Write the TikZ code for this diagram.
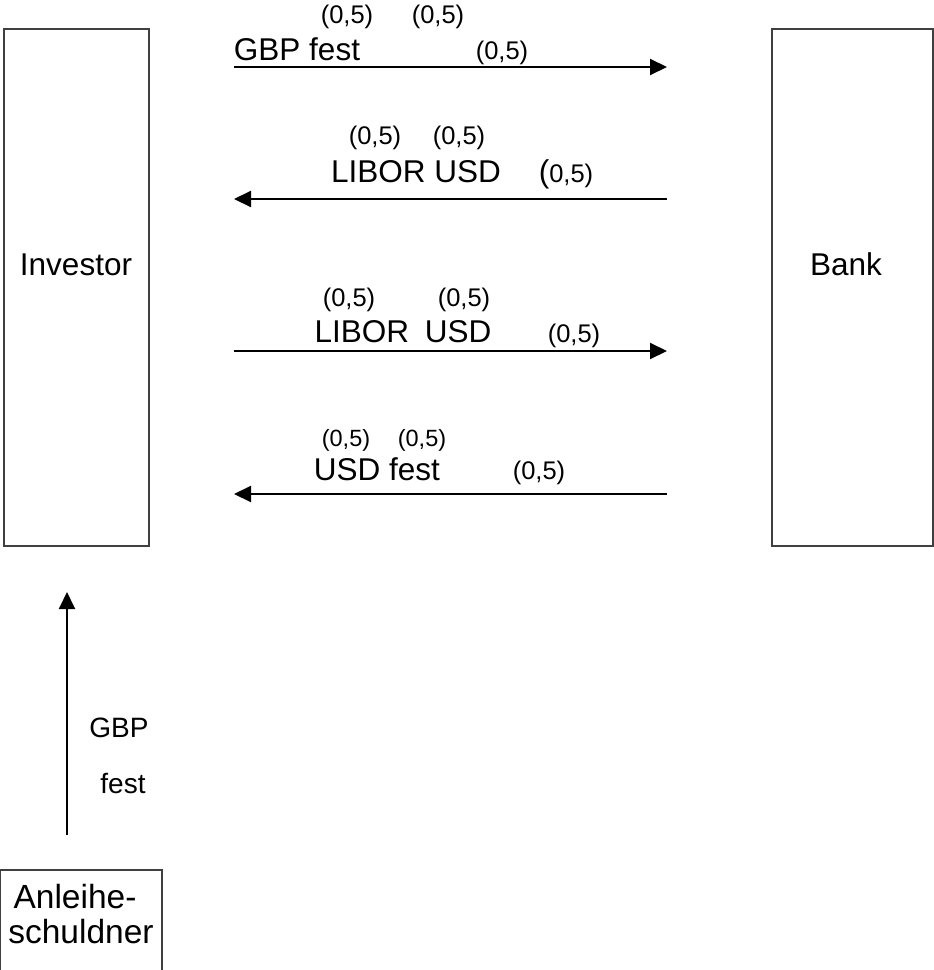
\documentclass[tikz,border=0pt]{standalone}
\usepackage{fontspec}
\setmainfont{Liberation Sans}
\usetikzlibrary{arrows.meta}
\newcommand{\mainsz}{\fontsize{31.5}{36}\selectfont}
\newcommand{\smallsz}{\fontsize{25.5}{30}\selectfont}
\newcommand{\bigsz}{\fontsize{33.5}{38}\selectfont}
\begin{document}
\begin{tikzpicture}[x=1pt,y=-1pt,
  party/.style={draw=black!75,line width=1.5pt},
  flow/.style={line width=2pt,-{Triangle[length=17pt,width=16pt]}},
  lbl/.style={anchor=base,inner sep=0pt,font=\mainsz},
  amt/.style={anchor=base,inner sep=0pt,font=\smallsz}]
\useasboundingbox (0,0) rectangle (934,970);
% boxes
\draw[party] (4,29) rectangle (149,546);
\node[lbl] (inv) at (76,275) {Investor};
\draw[party] (772,29) rectangle (933,546);
\node[lbl] (bank) at (846,275) {Bank};
\draw[party] (0,870) rectangle (162,975);
\node[anchor=base,inner sep=0pt,font=\bigsz] (anl1) at (75,908) {Anleihe-};
\node[anchor=base,inner sep=0pt,font=\bigsz] (anl2) at (81,943) {schuldner};
% arrow endpoints
\coordinate (a1s) at (234,67);  \coordinate (a1e) at (667,67);
\coordinate (a2s) at (667,199); \coordinate (a2e) at (234,199);
\coordinate (a3s) at (234,351); \coordinate (a3e) at (667,351);
\coordinate (a4s) at (667,494); \coordinate (a4e) at (234,494);
\coordinate (v1s) at (67,835);  \coordinate (v1e) at (67,592);
\draw[flow] (a1s) -- (a1e);
\draw[flow] (a2s) -- (a2e);
\draw[flow] (a3s) -- (a3e);
\draw[flow] (a4s) -- (a4e);
\draw[flow] (v1s) -- (v1e);
% row 1
\node[amt] (r1a) at (347,23) {(0,5)};
\node[amt] (r1b) at (438,23) {(0,5)};
\node[lbl] (r1t) at (297,60) {GBP fest};
\node[amt] (r1c) at (502,59) {(0,5)};
% row 2
\node[amt] (r2a) at (375,144) {(0,5)};
\node[amt] (r2b) at (459,144) {(0,5)};
\node[lbl] (r2t) at (416,182) {LIBOR USD};
\node[amt] (r2c) at (566,182) {{\mainsz(}0,5)};
% row 3
\node[amt] (r3a) at (349,306) {(0,5)};
\node[amt] (r3b) at (464,306) {(0,5)};
\node[lbl] (r3t) at (403,342) {LIBOR\hspace{0.5em}USD};
\node[amt] (r3c) at (574,342) {(0,5)};
% row 4
\node[amt,font=\fontsize{23.5}{28}\selectfont] (r4a) at (346,446) {(0,5)};
\node[amt,font=\fontsize{23.5}{28}\selectfont] (r4b) at (422,446) {(0,5)};
\node[lbl] (r4t) at (377,480) {USD fest};
\node[amt] (r4c) at (539,479) {(0,5)};
% vertical label
\node[anchor=base,inner sep=0pt,font=\fontsize{28}{32}\selectfont] (g1) at (119,737) {GBP};
\node[anchor=base,inner sep=0pt,font=\fontsize{28}{32}\selectfont] (g2) at (123,793) {fest};
\end{tikzpicture}
\end{document}
